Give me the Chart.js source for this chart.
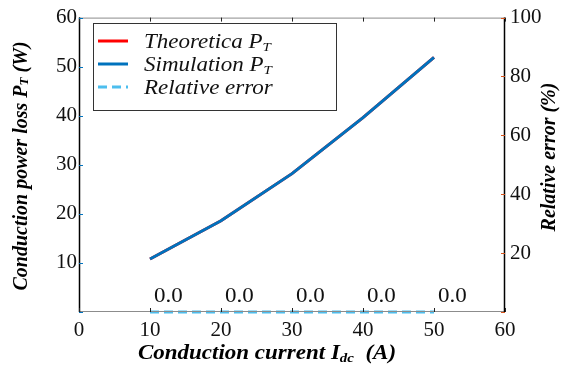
<!DOCTYPE html>
<html>
<head>
<meta charset="utf-8">
<script src="https://cdn.jsdelivr.net/npm/chart.js@4.4.0/dist/chart.umd.min.js"></script>
<style>
html, body { margin: 0; padding: 0; background: #fff; }
#wrap { width: 561px; height: 368px; }
</style>
</head>
<body>
<div id="wrap"><canvas id="chart"></canvas></div>
<script>
const current = [10, 20, 30, 40, 50];
const theoreticalLoss = [10.8, 18.6, 28.2, 39.6, 51.9];
const simulationLoss = [10.8, 18.6, 28.2, 39.6, 51.9];
const relativeError = [0.0, 0.0, 0.0, 0.0, 0.0];
const xTicks = [0, 10, 20, 30, 40, 50, 60];
const lossTicks = [10, 20, 30, 40, 50, 60];
const errorTicks = [20, 40, 60, 80, 100];

const serif = "'Liberation Serif', 'Times New Roman', serif";
const stretch = 1.15;

// text with a subscript part, squeezed out a bit wider like the picture
function richText (ctx, parts, x, y, align, font, sub) {
    let w = 0;
    parts.forEach(p => { ctx.font = p.s ? sub : font; w += ctx.measureText(p.t).width; });
    w *= stretch;
    let cx = align === 'center' ? x - w / 2 : x;
    ctx.save();
    ctx.textBaseline = 'alphabetic';
    ctx.textAlign = 'left';
    parts.forEach(p => {
        ctx.font = p.s ? sub : font;
        ctx.save();
        ctx.translate(cx, y + (p.s ? 3 : 0));
        ctx.scale(stretch, 1);
        ctx.fillText(p.t, 0, 0);
        ctx.restore();
        cx += ctx.measureText(p.t).width * stretch;
    });
    ctx.restore();
}

function rotText (ctx, parts, x, y, font, sub) {
    ctx.save();
    ctx.translate(x, y);
    ctx.rotate(-Math.PI / 2);
    let w = 0;
    parts.forEach(p => { ctx.font = p.s ? sub : font; w += ctx.measureText(p.t).width; });
    let cx = -w / 2;
    ctx.textBaseline = 'middle';
    ctx.textAlign = 'left';
    parts.forEach(p => {
        ctx.font = p.s ? sub : font;
        ctx.fillText(p.t, cx, p.s ? 3 : 0);
        cx += ctx.measureText(p.t).width;
    });
    ctx.restore();
}

const decor = {
    id: 'decor',
    afterDatasetsDraw (chart) {
        const ctx = chart.ctx;
        const a = chart.chartArea;
        const sx = chart.scales.x, sy = chart.scales.y, sy1 = chart.scales.y1;

        ctx.save();
        // frame
        ctx.lineWidth = 1;
        ctx.strokeStyle = '#8c8c8c';
        ctx.beginPath();
        ctx.moveTo(a.left, a.top + 0.5); ctx.lineTo(a.right, a.top + 0.5);
        ctx.moveTo(a.left, a.bottom - 0.5); ctx.lineTo(a.right, a.bottom - 0.5);
        ctx.stroke();
        ctx.strokeStyle = '#000';
        ctx.lineWidth = 1.5;
        ctx.beginPath();
        ctx.moveTo(a.left + 0.5, a.top); ctx.lineTo(a.left + 0.5, a.bottom);
        ctx.moveTo(a.right - 0.5, a.top); ctx.lineTo(a.right - 0.5, a.bottom);
        ctx.stroke();

        // inward ticks
        ctx.lineWidth = 1;
        ctx.strokeStyle = '#222';
        ctx.beginPath();
        xTicks.forEach(v => {
            const px = Math.round(sx.getPixelForValue(v)) + 0.5;
            ctx.moveTo(px, a.top); ctx.lineTo(px, a.top + 4);
            ctx.moveTo(px, a.bottom); ctx.lineTo(px, a.bottom - 4);
        });
        ctx.stroke();
        ctx.strokeStyle = '#0072BD';
        ctx.beginPath();
        [0].concat(lossTicks).forEach(v => {
            const py = Math.round(sy.getPixelForValue(v)) + 0.5;
            ctx.moveTo(a.left, py); ctx.lineTo(a.left + 4, py);
        });
        ctx.stroke();
        ctx.strokeStyle = '#D95319';
        ctx.beginPath();
        [0].concat(errorTicks).forEach(v => {
            const py = Math.round(sy1.getPixelForValue(v)) + 0.5;
            ctx.moveTo(a.right, py); ctx.lineTo(a.right - 4, py);
        });
        ctx.stroke();

        // error value labels
        ctx.fillStyle = '#111';
        relativeError.forEach((v, i) => {
            const px = sx.getPixelForValue(current[i]);
            richText(ctx, [{ t: v.toFixed(1) }], px + 4, a.bottom - 10, 'left', '20px ' + serif, '');
        });

        // legend
        const lx = 93, ly = 23, lw = 243, lh = 87;
        ctx.fillStyle = '#fff';
        ctx.fillRect(lx, ly, lw, lh);
        ctx.strokeStyle = '#333';
        ctx.lineWidth = 1;
        ctx.strokeRect(lx + 0.5, ly + 0.5, lw, lh);
        const rows = [
            { c: '#FF0000', d: [], parts: [{ t: 'Theoretica P' }, { t: 'T', s: 1 }] },
            { c: '#0072BD', d: [], parts: [{ t: 'Simulation P' }, { t: 'T', s: 1 }] },
            { c: '#4DBEEE', d: [9, 5], parts: [{ t: 'Relative error' }] },
        ];
        rows.forEach((r, i) => {
            const y = 41 + i * 23;
            ctx.strokeStyle = r.c;
            ctx.lineWidth = 3;
            ctx.setLineDash(r.d);
            ctx.beginPath();
            ctx.moveTo(98, y); ctx.lineTo(128, y);
            ctx.stroke();
            ctx.setLineDash([]);
            ctx.fillStyle = '#111';
            richText(ctx, r.parts, 144, y + 7, 'left', 'italic 20px ' + serif, 'italic 13px ' + serif);
        });

        // axis titles
        ctx.fillStyle = '#000';
        richText(ctx, [{ t: 'Conduction current I' }, { t: 'dc', s: 1 }, { t: '  (A)' }],
            (a.left + a.right) / 2 - 25, 359, 'center', 'italic bold 20px ' + serif, 'italic bold 13px ' + serif);
        rotText(ctx, [{ t: 'Conduction power loss P' }, { t: 'T', s: 1 }, { t: ' (W)' }],
            22, 166, 'italic bold 20px ' + serif, 'italic bold 13px ' + serif);
        rotText(ctx, [{ t: 'Relative error (%)' }], 550, 157, 'italic bold 20px ' + serif, '');
        ctx.restore();
    }
};

const tickFont = { family: serif, size: 21 };

new Chart(document.getElementById('chart'), {
    type: 'line',
    data: {
        datasets: [
            {
                label: 'Simulation PT',
                data: current.map((x, i) => ({ x: x, y: simulationLoss[i] })),
                borderColor: '#0072BD',
                borderWidth: 3,
                pointRadius: 0,
                yAxisID: 'y',
                order: 0,
            },
            {
                label: 'Theoretica PT',
                data: current.map((x, i) => ({ x: x, y: theoreticalLoss[i] })),
                borderColor: '#FF0000',
                borderWidth: 3,
                pointRadius: 0,
                yAxisID: 'y',
                order: 1,
            },
            {
                label: 'Relative error',
                data: current.map((x, i) => ({ x: x, y: relativeError[i] })),
                borderColor: '#4DBEEE',
                borderWidth: 3,
                borderDash: [9, 5],
                pointRadius: 0,
                yAxisID: 'y1',
                clip: false,
                order: 2,
            },
        ],
    },
    options: {
        responsive: true,
        maintainAspectRatio: false,
        animation: false,
        layout: { padding: { top: 14, left: 0, right: 0, bottom: 0 } },
        plugins: { legend: { display: false }, tooltip: { enabled: false } },
        scales: {
            x: {
                type: 'linear',
                min: 0, max: 60,
                afterBuildTicks: s => { s.ticks = xTicks.map(v => ({ value: v })); },
                ticks: { font: tickFont, color: '#111', padding: 6, maxRotation: 0 },
                grid: { display: false, tickLength: 0 },
                border: { display: false },
                afterFit: s => { s.height = 56; },
            },
            y: {
                position: 'left',
                min: 0, max: 60,
                afterBuildTicks: s => { s.ticks = lossTicks.map(v => ({ value: v })); },
                ticks: { font: tickFont, color: '#111', padding: 2 },
                grid: { display: false, tickLength: 0 },
                border: { display: false },
                afterFit: s => { s.width = 79; },
            },
            y1: {
                position: 'right',
                min: 0, max: 100,
                afterBuildTicks: s => { s.ticks = errorTicks.map(v => ({ value: v })); },
                ticks: { font: tickFont, color: '#111', padding: 5 },
                grid: { display: false, tickLength: 0 },
                border: { display: false },
                afterFit: s => { s.width = 56; },
            },
        },
    },
    plugins: [decor],
});
</script>
</body>
</html>
